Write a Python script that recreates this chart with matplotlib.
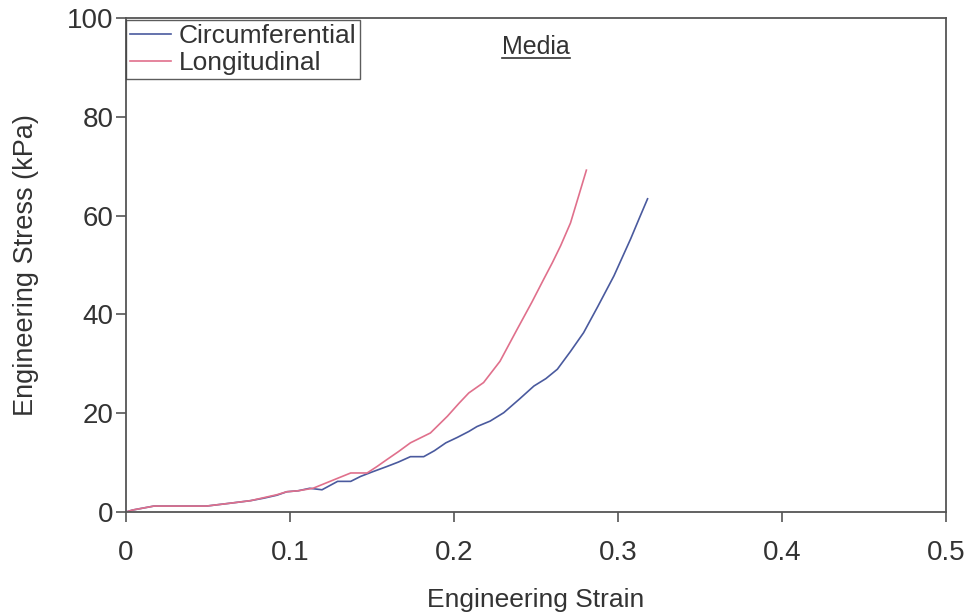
import matplotlib.pyplot as plt
import numpy as np

plt.rcParams['font.family'] = ['Liberation Sans', 'DejaVu Sans']

# Circumferential curve (strain, stress kPa)
circ_strain = [0.0, 0.004, 0.017, 0.030, 0.049, 0.064, 0.076, 0.084, 0.092, 0.098, 0.105,
               0.112, 0.1195, 0.129, 0.137, 0.143, 0.150, 0.159, 0.166, 0.1734, 0.1815,
               0.188, 0.195, 0.202, 0.209, 0.214, 0.222, 0.2303, 0.240, 0.2487, 0.256,
               0.263, 0.271, 0.279, 0.2875, 0.2975, 0.3077, 0.313, 0.318]
circ_stress = [0.0, 0.4, 1.2, 1.2, 1.2, 1.8, 2.3, 2.8, 3.4, 4.1, 4.3,
               4.8, 4.5, 6.2, 6.2, 7.2, 8.1, 9.2, 10.1, 11.2, 11.2,
               12.4, 14.0, 15.1, 16.3, 17.3, 18.4, 20.1, 22.9, 25.5, 27.0,
               28.9, 32.5, 36.3, 41.5, 47.8, 55.3, 59.5, 63.4]

# Longitudinal curve
long_strain = [0.0, 0.004, 0.017, 0.030, 0.049, 0.064, 0.076, 0.084, 0.092, 0.098, 0.105,
               0.114, 0.1266, 0.137, 0.147, 0.153, 0.159, 0.166, 0.1734, 0.1856, 0.196,
               0.203, 0.209, 0.218, 0.228, 0.2385, 0.2475, 0.2548, 0.260, 0.265, 0.271,
               0.276, 0.2807]
long_stress = [0.0, 0.4, 1.2, 1.2, 1.2, 1.8, 2.3, 2.9, 3.5, 4.1, 4.3,
               4.8, 6.5, 7.9, 7.9, 9.2, 10.6, 12.2, 14.0, 16.0, 19.4,
               22.0, 24.1, 26.2, 30.5, 37.0, 42.5, 47.2, 50.5, 53.9, 58.5,
               64.0, 69.2]

fig = plt.figure(figsize=(9.71, 6.12), dpi=100)
ax = fig.add_axes([0.1298, 0.1634, 0.8445, 0.8072])

ax.plot(circ_strain, circ_stress, color='#4a5a9e', lw=1.2, label='Circumferential')
ax.plot(long_strain, long_stress, color='#e0708c', lw=1.2, label='Longitudinal')

ax.set_xlim(0, 0.5)
ax.set_ylim(0, 100)
ax.set_xticks([0, 0.1, 0.2, 0.3, 0.4, 0.5])
ax.set_xticklabels(['0', '0.1', '0.2', '0.3', '0.4', '0.5'])
ax.set_yticks([0, 20, 40, 60, 80, 100])
ax.tick_params(labelsize=20, length=7, width=1.2, color='#555555', labelcolor='#333333')
ax.tick_params(axis='x', pad=13)
ax.tick_params(axis='y', pad=2)
for s in ax.spines.values():
    s.set_color('#555555')
    s.set_linewidth(1.3)

ax.set_xlabel('Engineering Strain', fontsize=19, color='#333333', labelpad=16)
ax.set_ylabel('Engineering Stress (kPa)', fontsize=19.5, color='#333333', labelpad=20)

t = ax.text(0.5, 0.965, 'Media', transform=ax.transAxes, ha='center', va='top',
            fontsize=18, color='#333333')
fig.canvas.draw()
bb = t.get_window_extent().transformed(ax.transAxes.inverted())
ax.plot([bb.x0, bb.x1], [bb.y0 + 0.002, bb.y0 + 0.002], transform=ax.transAxes,
        color='#333333', lw=1.2)

leg = ax.legend(loc='upper left', fontsize=19, frameon=True, fancybox=False,
                borderpad=0.15, handlelength=1.55, handletextpad=0.3, labelspacing=0.12,
                borderaxespad=0.0, bbox_to_anchor=(0.0, 0.996))
leg.get_frame().set_edgecolor('#333333')
leg.get_frame().set_linewidth(1.0)
for txt in leg.get_texts():
    txt.set_color('#333333')

fig.savefig('out.png', dpi=100)
